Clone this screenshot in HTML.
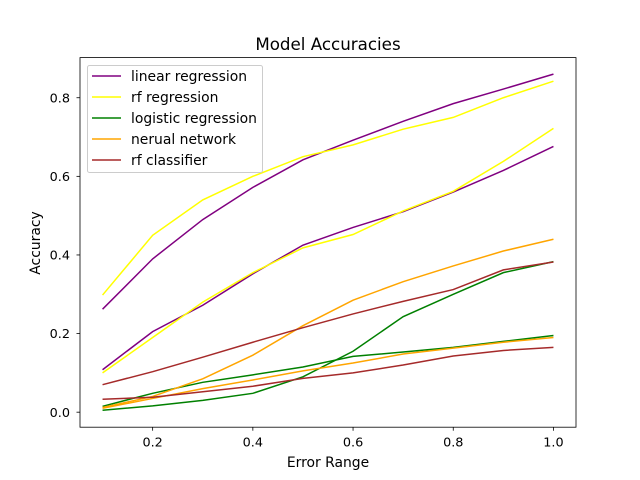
<!DOCTYPE html>
<html><head><meta charset="utf-8"><style>
html,body{margin:0;padding:0;background:#fff;}
svg{display:block;font-family:"DejaVu Sans","Liberation Sans",sans-serif;}
</style></head><body>
<svg id="chart" width="640" height="480" viewBox="0 0 640 480">
<rect x="0" y="0" width="640" height="480" fill="#fff"/>
<text x="328" y="50" text-anchor="middle" font-size="16.7">Model Accuracies</text>
<g id="lines"></g>
<rect x="80" y="57.6" width="496" height="369.6" fill="none" stroke="#000" stroke-width="0.8"/>
<g id="xticks"></g><g id="yticks"></g>
<text x="328" y="467" text-anchor="middle" font-size="13.9">Error Range</text>
<text transform="translate(40,243) rotate(-90)" text-anchor="middle" font-size="13.9">Accuracy</text>
<g id="legend"></g>
</svg>
<script>
const xValues=[0.1,0.2,0.3,0.4,0.5,0.6,0.7,0.8,0.9,1.0];
const seriesNames=["linear regression","rf regression","logistic regression","nerual network","rf classifier"];
const seriesColors=["purple","yellow","green","orange","brown"];
const linearUpper=[0.262,0.39,0.49,0.572,0.642,0.692,0.74,0.785,0.822,0.86];
const linearLower=[0.108,0.205,0.272,0.352,0.425,0.47,0.51,0.56,0.615,0.676];
const rfRegUpper=[0.298,0.45,0.54,0.6,0.65,0.68,0.72,0.75,0.80,0.842];
const rfRegLower=[0.1,0.19,0.28,0.355,0.418,0.452,0.512,0.562,0.638,0.722];
const logisticUpper=[0.015,0.048,0.076,0.095,0.115,0.142,0.153,0.165,0.18,0.195];
const logisticLower=[0.005,0.016,0.03,0.048,0.09,0.155,0.243,0.3,0.355,0.383];
const nnUpper=[0.012,0.04,0.085,0.145,0.22,0.285,0.332,0.372,0.41,0.44];
const nnLower=[0.01,0.035,0.06,0.082,0.105,0.125,0.148,0.163,0.178,0.19];
const rfClsUpper=[0.07,0.103,0.14,0.178,0.215,0.25,0.282,0.312,0.362,0.382];
const rfClsLower=[0.033,0.038,0.052,0.066,0.086,0.1,0.12,0.143,0.157,0.165];
const xTicks=[0.2,0.4,0.6,0.8,1.0];
const xTickLabels=["0.2","0.4","0.6","0.8","1.0"];
const yTicks=[0.0,0.2,0.4,0.6,0.8];
const yTickLabels=["0.0","0.2","0.4","0.6","0.8"];

const NS="http://www.w3.org/2000/svg";
const X0=80,X1=576,Y0=427.2,Y1=57.6;
const xMin=0.055,xMax=1.045,yMin=-0.0382,yMax=0.9021;
function xs(v){return X0+(v-xMin)/(xMax-xMin)*(X1-X0);}
function ys(v){return Y0-(v-yMin)/(yMax-yMin)*(Y0-Y1);}
function mk(tag,attrs,parent){const e=document.createElementNS(NS,tag);for(const k in attrs)e.setAttribute(k,attrs[k]);parent.appendChild(e);return e;}

const groups=[[linearUpper,linearLower],[rfRegUpper,rfRegLower],[logisticUpper,logisticLower],[nnUpper,nnLower],[rfClsUpper,rfClsLower]];
const linesG=document.getElementById('lines');
groups.forEach((pair,i)=>{pair.forEach((vals,j)=>{
  const pts=vals.map((v,k)=>xs(xValues[k]).toFixed(2)+","+ys(v).toFixed(2)).join(" ");
  const p=mk('polyline',{points:pts,fill:'none',stroke:seriesColors[i],'stroke-width':1.5},linesG);
  
  
});});

const xt=document.getElementById('xticks');
xTicks.forEach((v,i)=>{
  const l=mk('line',{x1:xs(v),x2:xs(v),y1:Y0,y2:Y0+3.5,stroke:'#000','stroke-width':0.8},xt);
  
  
  const t=mk('text',{x:xs(v),y:Y0+19.5,'text-anchor':'middle','font-size':12.8},xt);
  t.textContent=xTickLabels[i];
  
  
});
const yt=document.getElementById('yticks');
yTicks.forEach((v,i)=>{
  const l=mk('line',{x1:X0-3.5,x2:X0,y1:ys(v),y2:ys(v),stroke:'#000','stroke-width':0.8},yt);
  
  
  const t=mk('text',{x:X0-10,y:ys(v)+4.6,'text-anchor':'end','font-size':12.8},yt);
  t.textContent=yTickLabels[i];
  
  
});

const lg=document.getElementById('legend');
const box=mk('rect',{x:87.5,y:65.5,width:175,height:107,rx:2,fill:'#fff','fill-opacity':0.8,stroke:'#ccc','stroke-width':1},lg);


seriesNames.forEach((n,i)=>{
  const y=76+i*21;
  const l=mk('line',{x1:92,x2:121,y1:y,y2:y,stroke:seriesColors[i],'stroke-width':1.5},lg);
  
  
  const t=mk('text',{x:131,y:y+5,'font-size':13.9},lg);
  t.textContent=n;
  
  
});
</script>
</body></html>
